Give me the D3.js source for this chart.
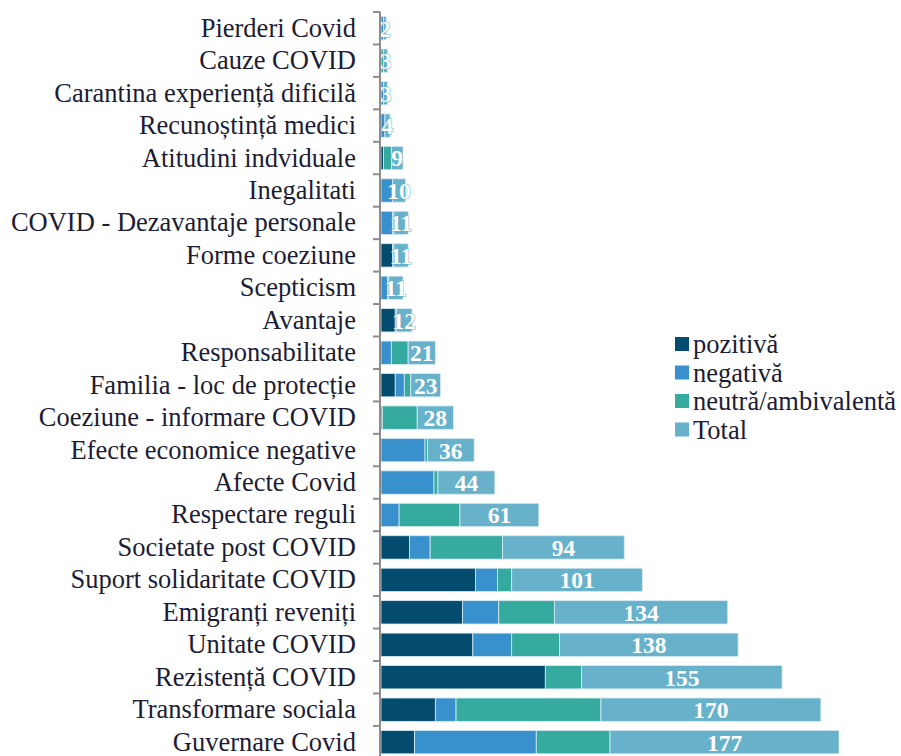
<!DOCTYPE html>
<meta charset="utf-8">
<head>
    <title>Stacked bars</title>
    <script src="https://d3js.org/d3.v7.min.js"></script>
</head>

<style>
body { margin: 0; background: #fff; }
svg { display: block; }
.cat text { font-family: "Liberation Serif", "Times New Roman", serif; font-size: 26.5px; fill: #1c1c35; }
.lbl { font-family: "Liberation Serif", "Times New Roman", serif; font-size: 23.5px; font-weight: bold; fill: #fff; }
.legend text { font-family: "Liberation Serif", "Times New Roman", serif; font-size: 26.5px; fill: #1c1c35; }
</style>

<body>
<svg></svg>

<script>

let categories = ["Pierderi Covid", "Cauze COVID", "Carantina experiență dificilă", "Recunoștință medici",
  "Atitudini indviduale", "Inegalitati", "COVID - Dezavantaje personale", "Forme coeziune", "Scepticism",
  "Avantaje", "Responsabilitate", "Familia - loc de protecție", "Coeziune - informare COVID",
  "Efecte economice negative", "Afecte Covid", "Respectare reguli", "Societate post COVID",
  "Suport solidaritate COVID", "Emigranți reveniți", "Unitate COVID", "Rezistență COVID",
  "Transformare sociala", "Guvernare Covid"];

let pozitiva = [0, 0, 0, 0, 2, 0, 0, 9, 0, 11, 0, 11, 0, 0, 0, 0, 22, 73, 63, 71, 127, 42, 26];
let negativa = [2, 0, 2, 3, 0, 9, 9, 0, 5, 1, 8, 7, 1, 34, 41, 14, 16, 17, 28, 30, 0, 16, 94];
let neutra   = [0, 2, 0, 0, 6, 0, 1, 1, 1, 0, 13, 5, 27, 2, 3, 47, 56, 11, 43, 37, 28, 112, 57];
let total    = [2, 3, 3, 4, 9, 10, 11, 11, 11, 12, 21, 23, 28, 36, 44, 61, 94, 101, 134, 138, 155, 170, 177];

let seriesNames = ["pozitivă", "negativă", "neutră/ambivalentă", "Total"];
let colors = ["#034b6f", "#3891cd", "#35aba0", "#67b1cb"];

let width = 901, height = 756;
let x0 = 381;

let svg = d3.select("svg").attr("width", width).attr("height", height);

// rows (Excel style stacked, Total stacked on top of the parts)
let rows = categories.map(function(c, i) {
  return {cat: c, "pozitivă": pozitiva[i], "negativă": negativa[i], "neutră/ambivalentă": neutra[i], "Total": total[i]};
});
let stacked = d3.stack().keys(seriesNames)(rows);

let x = d3.scaleLinear()
  .domain([0, 354])
  .range([x0, x0 + 458]);

let y = d3.scaleBand()
  .domain(categories)
  .range([12, 12 + 23 * 32.45])
  .paddingInner(0.28)
  .paddingOuter(0.14);

// bars
svg.append("g").selectAll("g")
  .data(stacked)
  .enter().append("g")
  .attr("fill", function(d, i) { return colors[i]; })
  .selectAll("rect")
  .data(function(d) { return d; })
  .enter().append("rect")
  .attr("x", function(d) { return x(d[0]); })
  .attr("y", function(d) { return y(d.data.cat); })
  .attr("width", function(d) { return x(d[1]) - x(d[0]); })
  .attr("height", y.bandwidth())
  .attr("stroke", "#d8ecf3")
  .attr("stroke-width", 0.8);

// total labels in the middle of the Total segment
let totLayer = stacked[3];
svg.append("g").selectAll("text")
  .data(totLayer)
  .enter().append("text")
  .attr("class", "lbl")
  .attr("x", function(d) { return x((d[0] + d[1]) / 2); })
  .attr("y", function(d) { return y(d.data.cat) + y.bandwidth() / 2; })
  .attr("dy", "0.36em")
  .attr("text-anchor", "middle")
  .attr("stroke", colors[3])
  .attr("stroke-width", 1)
  .attr("paint-order", "stroke")
  .text(function(d) { return d.data.Total; });

// category labels
let cat = svg.append("g")
  .attr("class", "cat")
  .attr("transform", "translate(" + (x0 - 1) + ",0)")
  .call(d3.axisLeft(y).tickSize(0).tickPadding(24));
cat.select(".domain").remove();

// axis line + ticks between categories
let axis = svg.append("g").attr("stroke", "#8c8c8c").attr("stroke-width", 2);
axis.append("line")
  .attr("x1", x0 - 1).attr("x2", x0 - 1)
  .attr("y1", y.range()[0]).attr("y2", y.range()[1]);
let bounds = categories.map(function(c) { return y(c) - y.step() * y.paddingInner() / 2; });
bounds.push(y.range()[1]);
axis.selectAll(".tk")
  .data(bounds)
  .enter().append("line")
  .attr("x1", x0 - 8).attr("x2", x0 - 1)
  .attr("y1", function(d) { return d; })
  .attr("y2", function(d) { return d; });

// legend
let legend = svg.append("g").attr("class", "legend")
  .attr("transform", "translate(675,337)");
let li = legend.selectAll("g")
  .data(seriesNames)
  .enter().append("g")
  .attr("transform", function(d, i) { return "translate(0," + (i * 28.5) + ")"; });
li.append("rect")
  .attr("width", 14).attr("height", 14)
  .attr("fill", function(d, i) { return colors[i]; });
li.append("text")
  .attr("x", 18).attr("y", 7)
  .attr("dy", "0.34em")
  .text(function(d) { return d; });

</script>
</body>
